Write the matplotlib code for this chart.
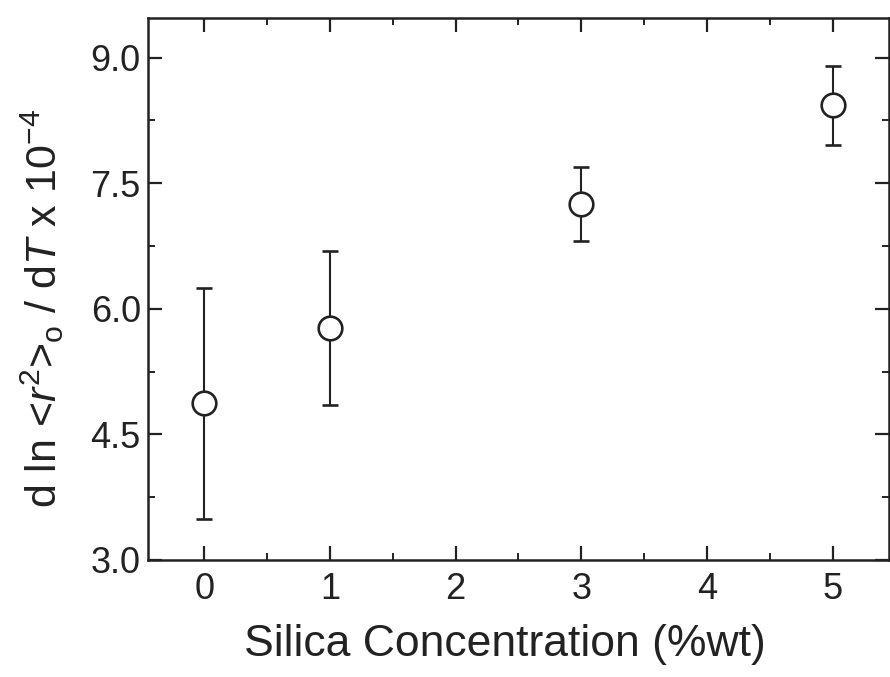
import numpy as np
import matplotlib
matplotlib.use("Agg")
import matplotlib.pyplot as plt
from matplotlib.ticker import MultipleLocator

plt.rcParams["font.family"] = ["Liberation Sans", "DejaVu Sans"]
plt.rcParams["mathtext.fontset"] = "custom"
plt.rcParams["mathtext.rm"] = "Liberation Sans"
plt.rcParams["mathtext.it"] = "Liberation Sans:italic"

# silica content (%wt) and d ln<r^2>o/dT (x 1e-4) with error bars
silica = [0, 1, 3, 5]
slope = [4.87, 5.77, 7.25, 8.43]
slope_err = [1.38, 0.92, 0.44, 0.47]

fig = plt.figure(figsize=(8.9, 6.77), dpi=100)
ax = fig.add_axes([0.166, 0.173, 0.833, 0.800])

ax.errorbar(silica, slope, yerr=slope_err, fmt="o", color="#222222",
            mfc="white", mec="#222222", ms=17, mew=1.9,
            elinewidth=1.5, capsize=6, capthick=1.5, zorder=3)

ax.set_xlim(-0.45, 5.45)
ax.set_ylim(3.0, 9.47)
ax.set_xticks([0, 1, 2, 3, 4, 5])
ax.set_yticks([3.0, 4.5, 6.0, 7.5, 9.0])
ax.set_yticklabels(["3.0", "4.5", "6.0", "7.5", "9.0"])
ax.xaxis.set_minor_locator(MultipleLocator(0.5))
ax.yaxis.set_minor_locator(MultipleLocator(0.75))

ax.tick_params(which="both", direction="in", top=True, right=True,
               labelsize=26, colors="#222222")
ax.tick_params(axis="x", pad=9)
ax.tick_params(axis="y", pad=5)
ax.tick_params(which="major", length=10, width=1.6)
ax.tick_params(which="minor", length=5, width=1.4)
for s in ax.spines.values():
    s.set_linewidth(1.8)
    s.set_color("#222222")

ax.set_xlabel("Silica Concentration (%wt)", fontsize=32, color="#222222")
ax.set_ylabel(r"d ln <$\mathit{r}^{2}$>$_{\mathrm{o}}$ / d$\mathit{T}$ x 10$^{-4}$",
              fontsize=31, color="#222222")
ax.xaxis.set_label_coords(0.482, -0.118)
ax.yaxis.set_label_coords(-0.110, 0.465)

fig.savefig("out.png", dpi=100)
